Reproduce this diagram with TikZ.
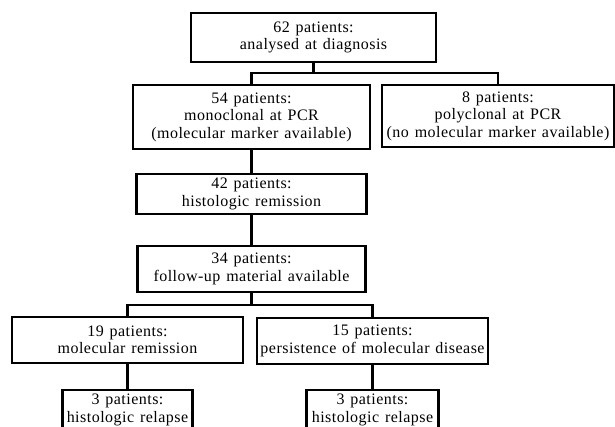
\documentclass[tikz,border=0pt]{standalone}
\usepackage{fontspec}
\setmainfont[LetterSpace=3,WordSpace=1.3]{Liberation Serif}
\tikzset{
  box/.style={draw,line width=2.1pt,align=center,inner sep=0pt,
    font=\fontsize{16}{17.5}\selectfont},
  link/.style={line width=2.1pt}
}
\begin{document}
\begin{tikzpicture}[x=1pt,y=-1pt]
\clip (0,0) rectangle (615,426);
\node[box,minimum width=245pt,minimum height=49pt] (total) at (313.5,37.5) {62 patients:\\analysed at diagnosis};
\node[box,minimum width=237pt,minimum height=64pt] (mono) at (251.5,117) {54 patients:\\monoclonal at PCR\\(molecular marker available)};
\node[box,minimum width=232pt,minimum height=62pt] (poly) at (498,116) {8 patients:\\polyclonal at PCR\\(no molecular marker available)};
\node[box,minimum width=230pt,minimum height=40pt] (remis) at (251.5,194) {42 patients:\\histologic remission};
\node[box,minimum width=228pt,minimum height=46pt] (follow) at (251.5,269) {34 patients:\\follow-up material available};
\node[box,minimum width=231pt,minimum height=46pt] (molrem) at (127.5,340) {19 patients:\\molecular remission};
\node[box,minimum width=231pt,minimum height=46pt] (persist) at (372.5,341) {15 patients:\\persistence of molecular disease};
\node[box,minimum width=130pt,minimum height=40pt,anchor=north] (relapseA) at (127.5,389) {3 patients:\\histologic relapse};
\node[box,minimum width=132pt,minimum height=40pt,anchor=north] (relapseB) at (372.5,389) {3 patients:\\histologic relapse};
\coordinate (splitA) at (0,73);
\coordinate (splitB) at (0,305);
\draw[link] (total.south) -- (total.south |- splitA);
\draw[link] (mono.north) -- (mono.north |- splitA) -- (poly.north |- splitA) -- (poly.north);
\draw[link] (mono.south) -- (remis.north);
\draw[link] (remis.south) -- (follow.north);
\draw[link] (follow.south) -- (follow.south |- splitB);
\draw[link] (molrem.north) -- (molrem.north |- splitB) -- (persist.north |- splitB) -- (persist.north);
\draw[link] (molrem.south) -- (relapseA.north);
\draw[link] (persist.south) -- (relapseB.north);
\end{tikzpicture}
\end{document}
